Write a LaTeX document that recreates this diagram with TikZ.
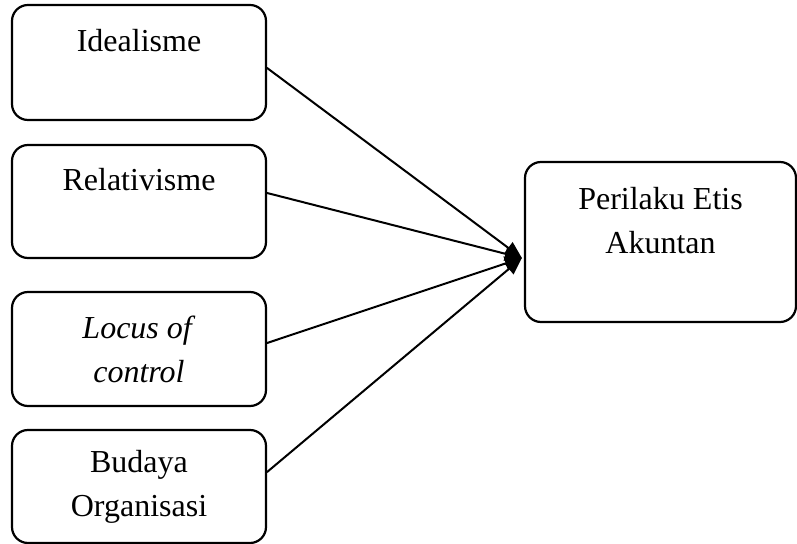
\documentclass[tikz,border=0pt]{standalone}
\usepackage{fontspec}
\setmainfont{Liberation Serif}
\usetikzlibrary{arrows.meta,calc}

\begin{document}
\begin{tikzpicture}[x=0.5pt, y=-0.5pt, >={Triangle[length=8.5pt,width=7pt]},
  line cap=round, line join=round,
  varbox/.style={draw, line width=1.1pt, rounded corners=8pt, align=center,
    minimum width=127pt, inner sep=0pt,
    font=\fontsize{16}{22}\selectfont},
  link/.style={->, line width=1pt}]

% fixed page size (pixel grid of the reference)
\useasboundingbox (0,0) rectangle (797,544);

% ------------------ LEFT: independent variables ------------------
\node[varbox, minimum height=57.5pt] (ideal) at (139,62.5) {Idealisme\\\mbox{}};
\node[varbox, minimum height=56.5pt] (relat) at (139,201.5) {Relativisme\\\mbox{}};
\node[varbox, minimum height=57pt] (locus) at (139,349) {\textit{Locus of}\\\textit{control}};
\node[varbox, minimum height=56.5pt] (budaya) at (139,486.5) {Budaya\\Organisasi};

% ------------------ RIGHT: dependent variable ------------------
\node[varbox, minimum width=135.5pt, minimum height=80pt] (etis) at (660.5,242)
  {Perilaku Etis\\Akuntan\\\mbox{}};

% meeting point of the arrows
\coordinate (tip) at ($(etis.west)+(-2,16)$);

% connectors
\draw[link] ($(ideal.east)+(0,5.5)$) -- (tip);
\draw[link] ($(relat.east)+(0,-8.5)$) -- (tip);
\draw[link] ($(locus.east)+(0,-6)$) -- (tip);
\draw[link] ($(budaya.east)+(0,-14.5)$) -- (tip);

\end{tikzpicture}
\end{document}
